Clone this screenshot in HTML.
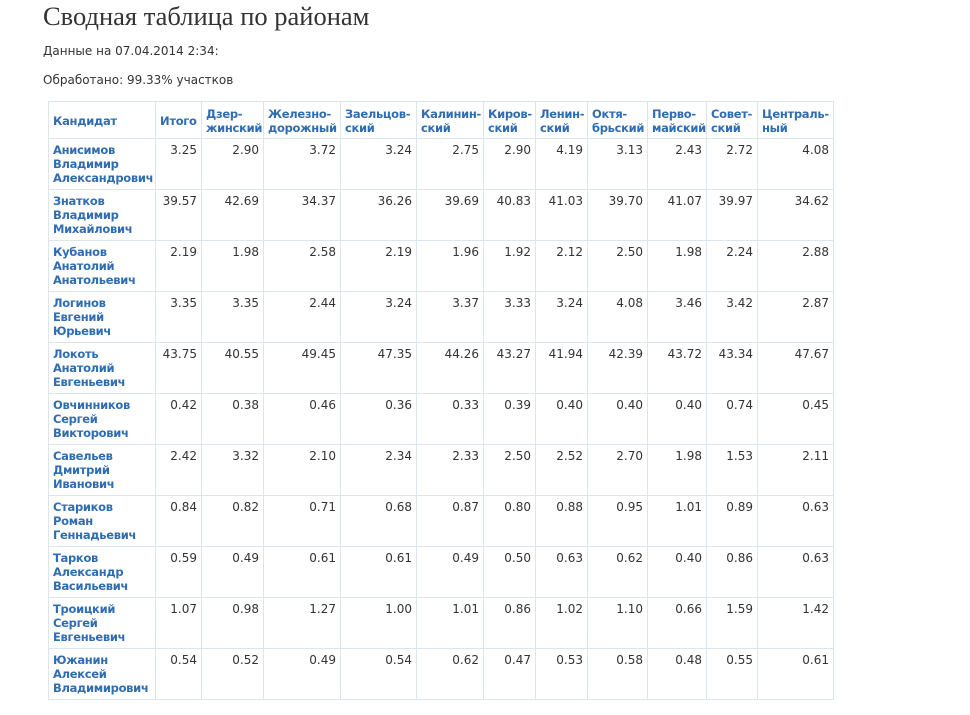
<!DOCTYPE html>
<html><head><meta charset="utf-8"><style>
body{margin:0;background:#fff;width:970px;height:715px;overflow:hidden;font-family:"DejaVu Sans","Liberation Sans",sans-serif;color:#333}
h1{position:absolute;left:43px;top:1px;margin:0;font:26.5px "Liberation Serif",serif;color:#333;line-height:30px}
.p{position:absolute;left:43px;font-size:12px;line-height:14px}
table{position:absolute;left:48px;top:101px;width:786px;border-collapse:collapse;table-layout:fixed;font-size:12px;line-height:14px}
td,th{border:1px solid #dbe5ee;vertical-align:top;padding:4px 4px 0 4px;white-space:nowrap;overflow:hidden}
th{color:#2f6db0;font-weight:bold;font-size:11.5px;text-align:left;vertical-align:middle;padding-top:2px;letter-spacing:-0.3px}
td{text-align:right;color:#333}
td.n{text-align:left;color:#2f6db0;font-weight:bold;font-size:11.5px;letter-spacing:-0.3px}
tr{height:51px}
tr.h{height:37px}
</style></head><body>
<h1>Сводная таблица по районам</h1>
<div class="p" style="top:44px">Данные на 07.04.2014 2:34:</div>
<div class="p" style="top:73px">Обработано: 99.33% участков</div>
<table>
<colgroup><col style="width:107px"><col style="width:46px"><col style="width:62px"><col style="width:77px"><col style="width:76px"><col style="width:67px"><col style="width:52px"><col style="width:52px"><col style="width:60px"><col style="width:59px"><col style="width:51px"><col style="width:76px"></colgroup>
<tr class="h"><th>Кандидат</th><th>Итого</th><th>Дзер-<br>жинский</th><th>Железно-<br>дорожный</th><th>Заельцов-<br>ский</th><th>Калинин-<br>ский</th><th>Киров-<br>ский</th><th>Ленин-<br>ский</th><th>Октя-<br>брьский</th><th>Перво-<br>майский</th><th>Совет-<br>ский</th><th>Централь-<br>ный</th></tr>
<tr><td class="n">Анисимов<br>Владимир<br>Александрович</td><td>3.25</td><td>2.90</td><td>3.72</td><td>3.24</td><td>2.75</td><td>2.90</td><td>4.19</td><td>3.13</td><td>2.43</td><td>2.72</td><td>4.08</td></tr>
<tr><td class="n">Знатков<br>Владимир<br>Михайлович</td><td>39.57</td><td>42.69</td><td>34.37</td><td>36.26</td><td>39.69</td><td>40.83</td><td>41.03</td><td>39.70</td><td>41.07</td><td>39.97</td><td>34.62</td></tr>
<tr><td class="n">Кубанов<br>Анатолий<br>Анатольевич</td><td>2.19</td><td>1.98</td><td>2.58</td><td>2.19</td><td>1.96</td><td>1.92</td><td>2.12</td><td>2.50</td><td>1.98</td><td>2.24</td><td>2.88</td></tr>
<tr><td class="n">Логинов<br>Евгений<br>Юрьевич</td><td>3.35</td><td>3.35</td><td>2.44</td><td>3.24</td><td>3.37</td><td>3.33</td><td>3.24</td><td>4.08</td><td>3.46</td><td>3.42</td><td>2.87</td></tr>
<tr><td class="n">Локоть<br>Анатолий<br>Евгеньевич</td><td>43.75</td><td>40.55</td><td>49.45</td><td>47.35</td><td>44.26</td><td>43.27</td><td>41.94</td><td>42.39</td><td>43.72</td><td>43.34</td><td>47.67</td></tr>
<tr><td class="n">Овчинников<br>Сергей<br>Викторович</td><td>0.42</td><td>0.38</td><td>0.46</td><td>0.36</td><td>0.33</td><td>0.39</td><td>0.40</td><td>0.40</td><td>0.40</td><td>0.74</td><td>0.45</td></tr>
<tr><td class="n">Савельев<br>Дмитрий<br>Иванович</td><td>2.42</td><td>3.32</td><td>2.10</td><td>2.34</td><td>2.33</td><td>2.50</td><td>2.52</td><td>2.70</td><td>1.98</td><td>1.53</td><td>2.11</td></tr>
<tr><td class="n">Стариков<br>Роман<br>Геннадьевич</td><td>0.84</td><td>0.82</td><td>0.71</td><td>0.68</td><td>0.87</td><td>0.80</td><td>0.88</td><td>0.95</td><td>1.01</td><td>0.89</td><td>0.63</td></tr>
<tr><td class="n">Тарков<br>Александр<br>Васильевич</td><td>0.59</td><td>0.49</td><td>0.61</td><td>0.61</td><td>0.49</td><td>0.50</td><td>0.63</td><td>0.62</td><td>0.40</td><td>0.86</td><td>0.63</td></tr>
<tr><td class="n">Троицкий<br>Сергей<br>Евгеньевич</td><td>1.07</td><td>0.98</td><td>1.27</td><td>1.00</td><td>1.01</td><td>0.86</td><td>1.02</td><td>1.10</td><td>0.66</td><td>1.59</td><td>1.42</td></tr>
<tr><td class="n">Южанин<br>Алексей<br>Владимирович</td><td>0.54</td><td>0.52</td><td>0.49</td><td>0.54</td><td>0.62</td><td>0.47</td><td>0.53</td><td>0.58</td><td>0.48</td><td>0.55</td><td>0.61</td></tr>
</table>
</body></html>
